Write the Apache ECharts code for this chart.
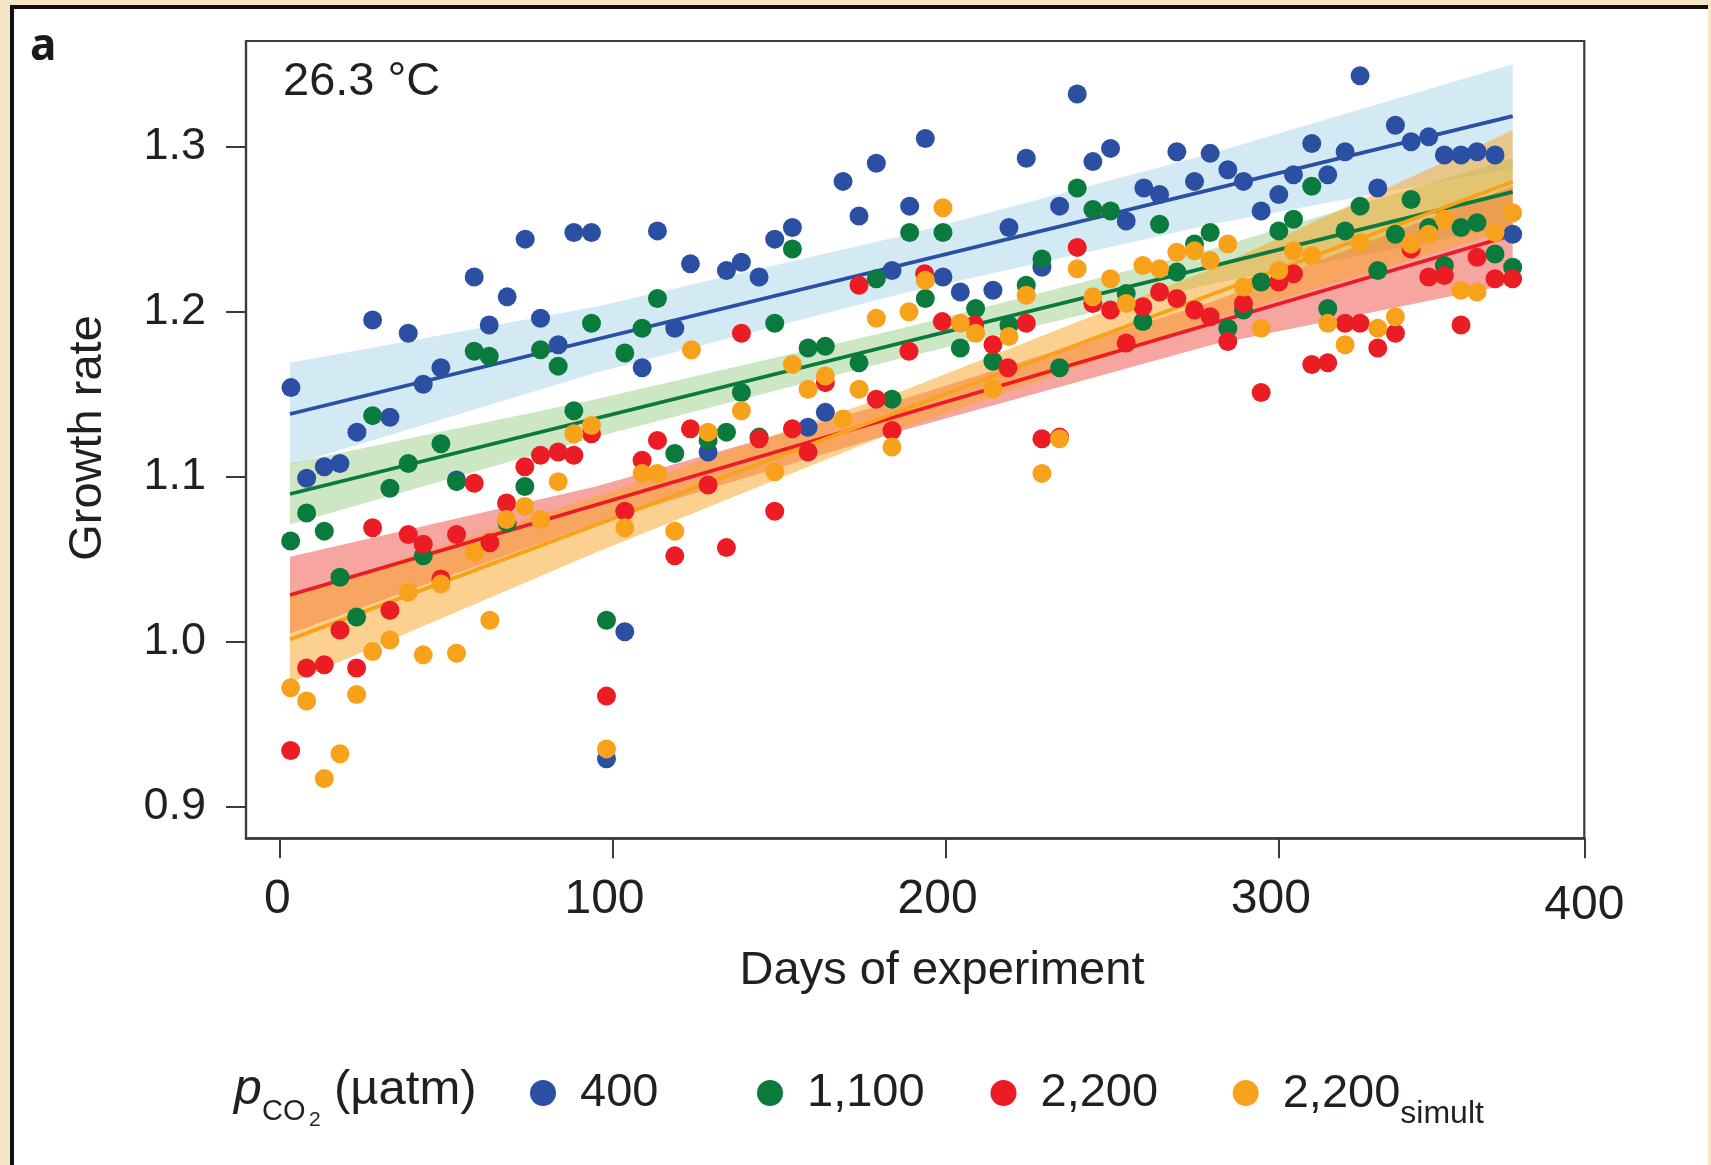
<!DOCTYPE html>
<html>
<head>
<meta charset="utf-8">
<title>Growth rate over the experiment</title>
<script src="https://cdn.jsdelivr.net/npm/echarts@6/dist/echarts.min.js"></script>
<style>
  html, body { margin: 0; padding: 0; background: #f5e6c8; width: 1711px; height: 1165px; overflow: hidden; }
  #panel { position: absolute; left: 10px; top: 5px; width: 1698px; height: 1165px; background: #fff;
           border-left: 4px solid #111; border-top: 4px solid #111; box-sizing: border-box; }
  #chart { position: absolute; left: 0; top: 0; width: 1711px; height: 1165px; }
</style>
</head>
<body>
<div id="panel"></div>
<div id="chart"></div>
<script>
// ---- measured growth rates, one sample every ~5 days ----
const days400 = [3.5, 8.2, 13.5, 18.2, 23.3, 28.0, 33.2, 38.7, 43.2, 48.5, 53.2, 58.5, 63.0, 68.4, 73.8, 78.4, 83.7, 88.4, 93.7, 98.2,
  103.7, 108.9, 113.5, 118.7, 123.4, 128.7, 134.2, 138.7, 144.0, 148.7, 154.0, 158.7, 163.9, 169.2, 174.0, 179.2, 183.9, 189.2, 193.9, 199.2,
  204.4, 214.2, 219.0, 224.2, 228.9, 234.2, 239.5, 244.2, 249.5, 254.2, 259.5, 264.2, 269.4, 274.7, 279.4, 284.7, 289.4, 294.7, 300.0, 304.4,
  309.9, 314.7, 319.9, 324.4, 329.7, 335.0, 339.7, 345.0, 349.7, 354.7, 359.5, 364.9, 370.2];
const rate400 = [1.154, 1.099, 1.106, 1.108, 1.127, 1.195, 1.136, 1.187, 1.156, 1.166, 1.098, 1.221, 1.192, 1.209, 1.244, 1.196, 1.180, 1.248, 1.248, 0.929,
  1.006, 1.166, 1.249, 1.190, 1.229, 1.115, 1.225, 1.230, 1.221, 1.244, 1.251, 1.130, 1.139, 1.279, 1.258, 1.290, 1.225, 1.264, 1.305, 1.221,
  1.212, 1.213, 1.251, 1.293, 1.227, 1.264, 1.332, 1.291, 1.299, 1.255, 1.275, 1.271, 1.297, 1.279, 1.296, 1.286, 1.279, 1.261, 1.271, 1.283,
  1.302, 1.283, 1.297, 1.343, 1.275, 1.313, 1.303, 1.306, 1.295, 1.295, 1.297, 1.295, 1.247];

const days1100 = [3.4, 8.2, 13.5, 18.2, 23.2, 28.0, 33.2, 38.7, 43.2, 48.5, 53.2, 58.5, 63.0, 68.4, 73.7, 78.4, 83.7, 88.4, 93.7, 98.2,
  103.7, 108.9, 113.5, 118.7, 128.7, 134.2, 138.7, 144.0, 148.7, 154.0, 158.7, 163.9, 174.0, 179.2, 183.9, 189.2, 193.9, 199.2, 204.4, 209.0,
  214.2, 219.0, 224.2, 228.9, 234.2, 239.5, 244.2, 249.5, 254.2, 259.2, 264.2, 269.4, 274.7, 279.4, 284.7, 289.4, 294.7, 300.0, 304.4, 309.9,
  314.7, 319.9, 324.4, 329.7, 335.0, 339.7, 345.0, 349.7, 354.7, 359.5, 364.9, 370.2];
const rate1100 = [1.061, 1.078, 1.067, 1.039, 1.015, 1.137, 1.093, 1.108, 1.052, 1.120, 1.097, 1.176, 1.173, 1.072, 1.094, 1.177, 1.167, 1.140, 1.193, 1.013,
  1.175, 1.190, 1.208, 1.114, 1.122, 1.127, 1.151, 1.124, 1.193, 1.238, 1.178, 1.179, 1.169, 1.220, 1.147, 1.248, 1.208, 1.248, 1.178, 1.202,
  1.170, 1.192, 1.216, 1.232, 1.166, 1.275, 1.262, 1.261, 1.211, 1.194, 1.253, 1.224, 1.241, 1.248, 1.190, 1.201, 1.218, 1.249, 1.256, 1.276,
  1.202, 1.249, 1.264, 1.225, 1.247, 1.268, 1.251, 1.228, 1.251, 1.254, 1.235, 1.227];

const days2200 = [3.4, 8.2, 13.5, 18.2, 23.2, 28.0, 33.2, 38.7, 43.2, 48.5, 53.2, 58.5, 63.2, 68.2, 73.7, 78.4, 83.7, 88.4, 93.7, 98.2,
  103.7, 108.9, 113.5, 118.7, 123.4, 128.7, 134.2, 138.7, 144.0, 148.7, 154.0, 158.7, 163.9, 174.0, 179.2, 183.9, 189.0, 193.7, 199.0, 208.7,
  214.2, 218.7, 224.2, 228.9, 234.2, 239.5, 244.2, 249.5, 254.2, 259.2, 264.2, 269.4, 274.7, 279.4, 284.7, 289.4, 294.7, 300.0, 304.4, 309.9,
  314.7, 319.9, 324.4, 329.7, 335.0, 339.7, 345.0, 349.7, 354.7, 359.5, 364.9, 370.2];
const rate2200 = [0.934, 0.984, 0.986, 1.007, 0.984, 1.069, 1.019, 1.065, 1.059, 1.038, 1.065, 1.096, 1.060, 1.084, 1.106, 1.113, 1.115, 1.113, 1.126, 0.967,
  1.079, 1.110, 1.122, 1.052, 1.129, 1.095, 1.057, 1.187, 1.123, 1.079, 1.129, 1.115, 1.157, 1.216, 1.147, 1.128, 1.176, 1.223, 1.194, 1.192,
  1.180, 1.166, 1.193, 1.123, 1.124, 1.239, 1.205, 1.201, 1.181, 1.203, 1.212, 1.208, 1.201, 1.197, 1.182, 1.205, 1.151, 1.218, 1.223, 1.168,
  1.169, 1.193, 1.193, 1.178, 1.187, 1.238, 1.221, 1.222, 1.192, 1.233, 1.220, 1.220];

const daysSimult = [3.4, 8.2, 13.5, 18.2, 23.2, 28.0, 33.2, 38.7, 43.2, 48.5, 53.2, 58.5, 63.2, 68.2, 73.7, 78.4, 83.7, 88.4, 93.7, 98.2,
  103.7, 108.9, 113.5, 118.7, 123.7, 128.7, 138.7, 148.7, 154.0, 158.7, 163.9, 169.2, 174.0, 179.2, 183.9, 189.0, 193.9, 199.2, 204.4, 209.0,
  214.2, 219.0, 224.2, 228.9, 234.2, 239.5, 244.2, 249.5, 254.2, 259.2, 264.2, 269.4, 274.7, 279.4, 284.7, 289.4, 294.7, 300.0, 304.4, 309.9,
  314.7, 319.9, 324.4, 329.7, 335.0, 339.7, 345.0, 349.7, 354.7, 359.5, 364.9, 370.2];
const rateSimult = [0.972, 0.964, 0.917, 0.932, 0.968, 0.994, 1.001, 1.030, 0.992, 1.035, 0.993, 1.054, 1.013, 1.074, 1.082, 1.074, 1.097, 1.126, 1.131, 0.935,
  1.069, 1.102, 1.102, 1.067, 1.177, 1.127, 1.140, 1.103, 1.168, 1.153, 1.161, 1.135, 1.153, 1.196, 1.118, 1.200, 1.219, 1.263, 1.193, 1.187,
  1.153, 1.185, 1.210, 1.102, 1.123, 1.226, 1.209, 1.220, 1.205, 1.228, 1.226, 1.236, 1.237, 1.231, 1.241, 1.215, 1.190, 1.225, 1.237, 1.234,
  1.193, 1.180, 1.242, 1.190, 1.197, 1.241, 1.247, 1.256, 1.213, 1.212, 1.248, 1.260];

// ---- linear fits (start and end of each line) ----
const fitDays = [3.2, 370.2];
const fit400 = [1.138, 1.3186];
const fit1100 = [1.0895, 1.2727];
const fit2200 = [1.0283, 1.2465];
const fitSimult = [1.0014, 1.2788];

// ---- confidence bands: edge values at these days ----
const bandDays = [3.2, 95, 187, 280, 370.2];
const band400Upper = [1.169, 1.203, 1.246, 1.296, 1.350];
const band400Lower = [1.107, 1.163, 1.211, 1.253, 1.287];
const band1100Upper = [1.108, 1.147, 1.190, 1.238, 1.293];
const band1100Lower = [1.071, 1.124, 1.172, 1.217, 1.252];
const band2200Upper = [1.0515, 1.094, 1.147, 1.206, 1.276];
const band2200Lower = [1.005, 1.072, 1.128, 1.180, 1.217];
const bandSimultUpper = [1.028, 1.088, 1.152, 1.226, 1.310];
const bandSimultLower = [0.975, 1.054, 1.129, 1.195, 1.250];

// ---- axis ticks ----
const xTickValues = [0, 100, 200, 300, 391.7];
const xTickLabels = ['0', '100', '200', '300', '400'];
const yTickValues = [0.9, 1.0, 1.1, 1.2, 1.3];
const yTickLabels = ['0.9', '1.0', '1.1', '1.2', '1.3'];

const FONT = "'Liberation Sans', Arial, Helvetica, sans-serif";
const BOLD_FONT = "'Noto Sans', 'Open Sans', 'DejaVu Sans', sans-serif";
const INK = '#231f20';
const AXIS = '#3a3a3a';

const COLORS = {
  c400: '#2b4fa3',
  c1100: '#0a7b3d',
  c2200: '#ec1c24',
  simult: '#f8a21c'
};
const BANDS = {
  c400: 'rgba(150,205,228,0.42)',
  c1100: 'rgba(130,195,110,0.40)',
  c2200: 'rgba(235,40,30,0.42)',
  simult: 'rgba(250,165,40,0.52)'
};

function pairs(xs, ys) { return xs.map((x, i) => [x, ys[i]]); }

function bandSeries(name, upper, lower, fill) {
  return {
    type: 'custom', name: name, z: 1, silent: true,
    data: bandDays.map((d, i) => [d, upper[i], lower[i]]),
    encode: { x: 0, y: [1, 2] },
    renderItem: function (params, api) {
      if (params.dataIndex !== 0) return null;
      const pts = [];
      for (let i = 0; i < bandDays.length; i++) pts.push(api.coord([bandDays[i], upper[i]]));
      for (let i = bandDays.length - 1; i >= 0; i--) pts.push(api.coord([bandDays[i], lower[i]]));
      return { type: 'polygon', shape: { points: pts }, style: { fill: fill } };
    }
  };
}

function fitSeries(name, ys, color) {
  return {
    type: 'line', name: name, z: 2, silent: true, showSymbol: false, symbol: 'none',
    data: pairs(fitDays, ys),
    lineStyle: { color: color, width: 3.8 }
  };
}

function pointSeries(name, xs, ys, color, z) {
  return {
    type: 'scatter', name: name, z: z, symbol: 'circle', symbolSize: 19,
    itemStyle: { color: color, opacity: 1 },
    data: pairs(xs, ys)
  };
}

function legendFor(name, left, top, extra) {
  return Object.assign({
    data: [name], left: left, top: top, orient: 'horizontal', icon: 'circle',
    itemWidth: 26, itemHeight: 26, selectedMode: false,
    textStyle: { fontFamily: FONT, fontSize: 47, color: INK, lineHeight: 56, padding: [0, 0, 0, 19] }
  }, extra || {});
}

// label text style shared by the x tick labels (small offsets keep them under their ticks)
const xLabelBase = { fontFamily: FONT, fontSize: 48, color: INK };

const chart = echarts.init(document.getElementById('chart'), null, { renderer: 'canvas' });

chart.setOption({
  backgroundColor: 'transparent',
  animation: false,
  grid: {
    left: 246, top: 41, width: 1338.3, height: 797.3,
    show: true, borderColor: AXIS, borderWidth: 2.2, backgroundColor: 'transparent'
  },
  xAxis: {
    type: 'value', min: -10, max: 391.7,
    axisLine: { show: true, onZero: false, lineStyle: { color: AXIS, width: 2.6 } },
    axisTick: { show: true, customValues: xTickValues, length: 20, inside: false, lineStyle: { color: AXIS, width: 2 } },
    axisLabel: {
      show: true, customValues: xTickValues, margin: 37,
      fontFamily: FONT, fontSize: 48, color: INK,
      formatter: function (v) {
        const i = xTickValues.indexOf(v);
        const key = i === 0 ? 'z' : (i === xTickValues.length - 1 ? 'e' : 'm');
        return '{' + key + '|' + xTickLabels[i] + '}';
      },
      rich: {
        z: Object.assign({ padding: [0, 4, 0, 0] }, xLabelBase),
        m: Object.assign({ padding: [0, 16, 0, 0] }, xLabelBase),
        e: Object.assign({ padding: [6, 0, 0, 0] }, xLabelBase)
      }
    },
    splitLine: { show: false }
  },
  yAxis: {
    type: 'value', min: 0.8808, max: 1.3641,
    axisLine: { show: true, onZero: false, lineStyle: { color: AXIS, width: 2.2 } },
    axisTick: { show: true, customValues: yTickValues, length: 20, inside: false, lineStyle: { color: AXIS, width: 2 } },
    axisLabel: {
      show: true, customValues: yTickValues, margin: 40,
      fontFamily: FONT, fontSize: 45, color: INK,
      formatter: v => yTickLabels[yTickValues.indexOf(v)]
    },
    splitLine: { show: false }
  },
  legend: [
    legendFor('400', 525, 1060),
    legendFor('1,100', 752, 1060),
    legendFor('2,200', 985.5, 1060),
    legendFor('2,200simult', 1227.7, 1060, {
      formatter: () => '{m|2,200}{s|simult}',
      textStyle: {
        fontFamily: FONT, fontSize: 47, color: INK, padding: [0, 0, 0, 19],
        rich: {
          m: { fontFamily: FONT, fontSize: 47, color: INK, lineHeight: 56, padding: [6, 0, 0, 0], verticalAlign: 'top' },
          s: { fontFamily: FONT, fontSize: 32, color: INK, lineHeight: 32, padding: [33, 0, 0, 0], verticalAlign: 'top' }
        }
      }
    })
  ],
  graphic: [
    { type: 'text', x: 30, y: 47, silent: true,
      style: { text: 'a', font: 'bold 44px ' + BOLD_FONT, fill: '#1a1a1a', align: 'left', verticalAlign: 'middle' } },
    { type: 'text', x: 283, y: 82, silent: true,
      style: { text: '26.3 °C', fontFamily: FONT, fontSize: 47, fill: INK, align: 'left', verticalAlign: 'middle' } },
    { type: 'text', x: 942, y: 971, silent: true,
      style: { text: 'Days of experiment', fontFamily: FONT, fontSize: 47, fill: INK, align: 'center', verticalAlign: 'middle' } },
    { type: 'text', x: 88, y: 438, rotation: Math.PI / 2, silent: true,
      style: { text: 'Growth rate', fontFamily: FONT, fontSize: 47, fill: INK, align: 'center', verticalAlign: 'middle' } },
    { type: 'text', x: 234, y: 1090, silent: true,
      style: { text: 'p', fontFamily: FONT, fontStyle: 'italic', fontSize: 50, fill: INK, align: 'left', verticalAlign: 'middle' } },
    { type: 'text', x: 262, y: 1112, silent: true,
      style: { text: 'CO', fontFamily: FONT, fontSize: 29, fill: INK, align: 'left', verticalAlign: 'middle' } },
    { type: 'text', x: 309, y: 1120, silent: true,
      style: { text: '2', fontFamily: FONT, fontSize: 21, fill: INK, align: 'left', verticalAlign: 'middle' } },
    { type: 'text', x: 334, y: 1090, silent: true,
      style: { text: '(µatm)', fontFamily: FONT, fontSize: 49, fill: INK, align: 'left', verticalAlign: 'middle' } }
  ],
  series: [
    bandSeries('band400', band400Upper, band400Lower, BANDS.c400),
    bandSeries('band1100', band1100Upper, band1100Lower, BANDS.c1100),
    bandSeries('band2200', band2200Upper, band2200Lower, BANDS.c2200),
    bandSeries('bandSimult', bandSimultUpper, bandSimultLower, BANDS.simult),
    fitSeries('fit400', fit400, COLORS.c400),
    fitSeries('fit1100', fit1100, COLORS.c1100),
    fitSeries('fit2200', fit2200, COLORS.c2200),
    fitSeries('fitSimult', fitSimult, COLORS.simult),
    pointSeries('400', days400, rate400, COLORS.c400, 3),
    pointSeries('1,100', days1100, rate1100, COLORS.c1100, 4),
    pointSeries('2,200', days2200, rate2200, COLORS.c2200, 5),
    pointSeries('2,200simult', daysSimult, rateSimult, COLORS.simult, 6)
  ]
});
</script>
</body>
</html>
